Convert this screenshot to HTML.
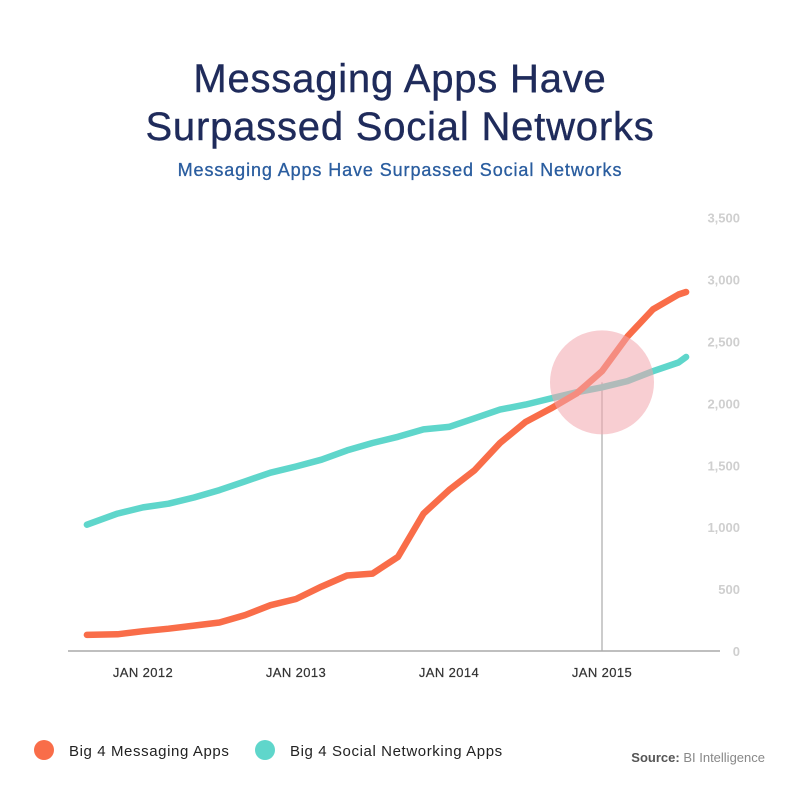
<!DOCTYPE html>
<html><head><meta charset="utf-8">
<style>
body{margin:0;background:#fff;width:800px;height:800px;overflow:hidden;font-family:"Liberation Sans",sans-serif;}
</style></head>
<body>
<svg id="chart" width="800" height="800" xmlns="http://www.w3.org/2000/svg" font-family="Liberation Sans, sans-serif">
<text x="400" y="92" text-anchor="middle" font-size="40" letter-spacing="0.8" fill="#1f2b5b" stroke="#1f2b5b" stroke-width="0.4">Messaging Apps Have</text>
<text x="400" y="140" text-anchor="middle" font-size="40" letter-spacing="0.8" fill="#1f2b5b" stroke="#1f2b5b" stroke-width="0.4">Surpassed Social Networks</text>
<text x="400" y="176" text-anchor="middle" font-size="18" letter-spacing="0.9" fill="#2a5d9f" stroke="#2a5d9f" stroke-width="0.3">Messaging Apps Have Surpassed Social Networks</text>
<g id="yaxis"></g>
<g id="xaxis"></g>
<line x1="68" y1="651" x2="720" y2="651" stroke="#aaa" stroke-width="1.5"/>
<g id="series"></g>
<g>
<circle cx="44" cy="750" r="10" fill="#f96d49"/>
<text x="69" y="756" font-size="15" letter-spacing="0.6" fill="#222">Big 4 Messaging Apps</text>
<circle cx="265" cy="750" r="10" fill="#5fd6cb"/>
<text x="290" y="756" font-size="15" letter-spacing="0.6" fill="#222">Big 4 Social Networking Apps</text>
</g>
<text x="765" y="762" text-anchor="end" font-size="13" fill="#555"><tspan font-weight="bold">Source:</tspan> <tspan fill="#888">BI Intelligence</tspan></text>
</svg>
<script>
const months = [-4.4,-2,0,2,4,6,8,10,12,14,16,18,20,22,24,26,28,30,32,34,36,38,40,42,42.6];
const messaging = [130,135,160,180,205,230,290,370,420,520,610,625,760,1110,1300,1460,1680,1850,1960,2080,2260,2540,2760,2880,2900];
const social = [1020,1110,1160,1190,1240,1300,1370,1440,1490,1545,1620,1680,1730,1790,1810,1880,1950,1990,2040,2090,2130,2180,2260,2330,2375];
const yTicks = [0,500,1000,1500,2000,2500,3000,3500];
const yTickLabels = ["0","500","1,000","1,500","2,000","2,500","3,000","3,500"];
const xTicks = [0,12,24,36];
const xTickLabels = ["JAN 2012","JAN 2013","JAN 2014","JAN 2015"];
const highlightMonth = 36;
const highlightValue = 2170;

const NS="http://www.w3.org/2000/svg";
const xs = m => 143 + m*12.75;
const ys = v => 651 - v*0.1238;
function mk(tag, attrs, parent){const e=document.createElementNS(NS,tag);for(const k in attrs)e.setAttribute(k,attrs[k]);parent.appendChild(e);return e;}
const ya=document.getElementById('yaxis'), xa=document.getElementById('xaxis'), sg=document.getElementById('series');
yTicks.forEach((v,i)=>{
  const t=mk('text',{x:740,y:ys(v)+5,'text-anchor':'end','font-size':13,'font-weight':'bold',fill:'#cfcfcf'},ya);
  
  
  t.textContent=yTickLabels[i];
});
xTicks.forEach((m,i)=>{
  const t=mk('text',{x:xs(m),y:677,'text-anchor':'middle','font-size':13,'letter-spacing':0.4,fill:'#333',stroke:'#333','stroke-width':0.2},xa);
  
  
  t.textContent=xTickLabels[i];
});
const vl=mk('line',{x1:xs(highlightMonth),x2:xs(highlightMonth),y1:ys(highlightValue),y2:651,stroke:'#aaa','stroke-width':1.2},sg);


function line(vals,color,name){
  const d=vals.map((v,i)=>(i?'L':'M')+xs(months[i]).toFixed(1)+','+ys(v).toFixed(1)).join('');
  const p=mk('path',{d:d,fill:'none',stroke:color,'stroke-width':6.5,'stroke-linecap':'round','stroke-linejoin':'round'},sg);
  
  
}
line(social,'#5fd6cb','line-social-networking');
line(messaging,'#f96d49','line-messaging');
const c=mk('circle',{cx:xs(highlightMonth),cy:ys(highlightValue),r:52,fill:'#f2a5ad','fill-opacity':0.55},sg);


</script>
</body></html>
